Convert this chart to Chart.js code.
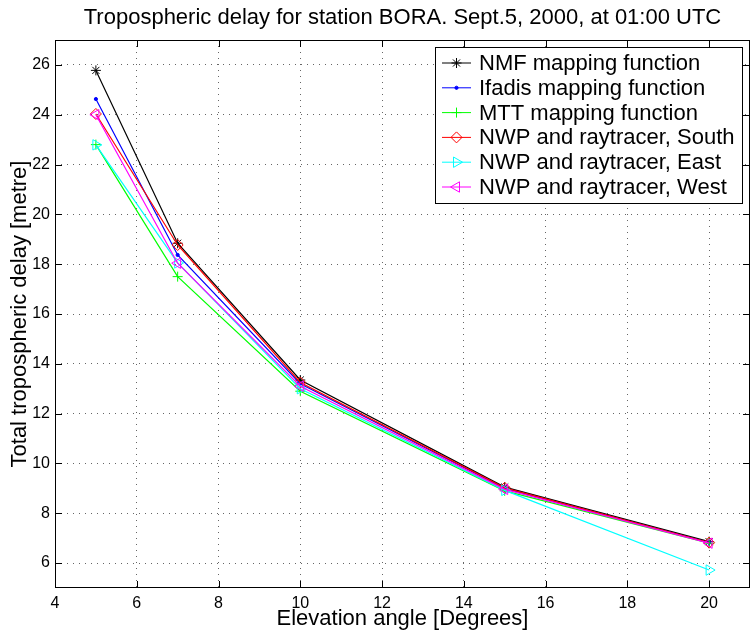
<!DOCTYPE html>
<html>
<head>
<meta charset="utf-8">
<style>
  html, body { margin: 0; padding: 0; background: #fff; overflow: hidden; }
  #wrap { width: 757px; height: 631px; }
</style>
</head>
<body>
<div id="wrap"><canvas id="chart" width="757" height="631"></canvas></div>
<script src="https://cdn.jsdelivr.net/npm/chart.js@4/dist/chart.umd.min.js"></script>
<script>
const elevation = [5, 7, 10, 15, 20];
const nmf = [25.78, 18.84, 13.35, 9.05, 6.86];
const ifadis = [24.63, 18.37, 13.2, 9.0, 6.82];
const mtt = [22.8, 17.5, 12.9, 8.9, 6.8];
const nwpSouth = [24.03, 18.77, 13.25, 9.02, 6.82];
const nwpEast = [22.79, 18.05, 13.0, 8.92, 5.72];
const nwpWest = [24.0, 18.04, 13.1, 8.96, 6.8];

const xTicks = [4, 6, 8, 10, 12, 14, 16, 18, 20];
const yTicks = [6, 8, 10, 12, 14, 16, 18, 20, 22, 24, 26];

const TITLE = 'Tropospheric delay for station BORA. Sept.5, 2000, at 01:00 UTC';
const FONT = "'Liberation Sans', Arial, Helvetica, sans-serif";

const series = [
  { label: 'NMF mapping function', data: nmf, color: '#000000', style: 'star', radius: 5, rotation: 0 },
  { label: 'Ifadis mapping function', data: ifadis, color: '#0000ff', style: 'circle', radius: 1.6, rotation: 0, filled: true },
  { label: 'MTT mapping function', data: mtt, color: '#00ff00', style: 'cross', radius: 5, rotation: 0 },
  { label: 'NWP and raytracer, South', data: nwpSouth, color: '#ff0000', style: 'rectRot', radius: 5.5, rotation: 0 },
  { label: 'NWP and raytracer, East', data: nwpEast, color: '#00ffff', style: 'triangle', radius: 6, rotation: 90 },
  { label: 'NWP and raytracer, West', data: nwpWest, color: '#ff00ff', style: 'triangle', radius: 6, rotation: -90 },
];

// box round the axes with inward ticks, plus the title
const matlabFrame = {
  id: 'matlabFrame',
  afterDatasetsDraw(chart) {
    const { ctx, chartArea: a, scales } = chart;
    ctx.save();
    ctx.strokeStyle = '#000';
    ctx.lineWidth = 1;
    ctx.strokeRect(a.left + 0.5, a.top + 0.5, a.right - a.left - 1, a.bottom - a.top - 1);
    ctx.beginPath();
    xTicks.forEach(v => {
      const x = Math.round(scales.x.getPixelForValue(v)) + 0.5;
      ctx.moveTo(x, a.bottom); ctx.lineTo(x, a.bottom - 7);
      ctx.moveTo(x, a.top); ctx.lineTo(x, a.top + 7);
    });
    yTicks.forEach(v => {
      const y = Math.round(scales.y.getPixelForValue(v)) + 0.5;
      ctx.moveTo(a.left, y); ctx.lineTo(a.left + 7, y);
      ctx.moveTo(a.right, y); ctx.lineTo(a.right - 7, y);
    });
    ctx.stroke();

    ctx.fillStyle = '#000';
    ctx.font = `22px ${FONT}`;
    ctx.textAlign = 'center';
    ctx.textBaseline = 'middle';
    ctx.fillText(TITLE, (a.left + a.right) / 2, 18);
    ctx.restore();
  },
};

const boxLegend = {
  id: 'boxLegend',
  afterDraw(chart) {
    const { ctx, chartArea: a } = chart;
    const right = a.right - 8;
    const top = a.top + 7;
    const w = 307, rowH = 24.8, h = 156;
    const left = right - w;
    ctx.save();
    ctx.fillStyle = '#fff';
    ctx.fillRect(left, top, w, h);
    ctx.strokeStyle = '#000';
    ctx.lineWidth = 1;
    ctx.strokeRect(left + 0.5, top + 0.5, w, h);
    ctx.font = `22px ${FONT}`;
    ctx.textAlign = 'left';
    ctx.textBaseline = 'middle';
    series.forEach((s, i) => {
      const y = top + 16 + i * rowH;
      ctx.strokeStyle = s.color;
      ctx.lineWidth = 1;
      ctx.beginPath();
      ctx.moveTo(left + 7, y);
      ctx.lineTo(left + 36, y);
      ctx.stroke();
      ctx.fillStyle = s.filled ? s.color : 'rgba(0,0,0,0)';
      Chart.helpers.drawPoint(ctx, {
        pointStyle: s.style, radius: s.radius, rotation: s.rotation, borderWidth: 1,
      }, left + 21.5, y);
      ctx.fillStyle = '#000';
      ctx.fillText(s.label, left + 44, y + 1);
    });
    ctx.restore();
  },
};

const gridOpts = { color: 'rgba(0,0,0,0.6)', lineWidth: 1, drawTicks: false };

new Chart(document.getElementById('chart'), {
  type: 'line',
  plugins: [matlabFrame, boxLegend],
  data: {
    datasets: series.map((s, i) => ({
      label: s.label,
      data: elevation.map((x, j) => ({ x, y: s.data[j] })),
      borderColor: s.color,
      backgroundColor: s.color,
      borderWidth: 1.2,
      tension: 0,
      pointStyle: s.style,
      pointRadius: s.radius,
      pointRotation: s.rotation,
      pointBorderColor: s.color,
      pointBackgroundColor: s.filled ? s.color : 'rgba(0,0,0,0)',
      pointBorderWidth: 1,
      order: series.length - i,
      clip: false,
    })),
  },
  options: {
    responsive: false,
    animation: false,
    layout: { padding: { top: 40, right: 1, left: 0, bottom: 0 } },
    plugins: { legend: { display: false }, tooltip: { enabled: false } },
    scales: {
      x: {
        type: 'linear', min: 4, max: 21,
        afterBuildTicks: s => { s.ticks = xTicks.map(v => ({ value: v })); },
        afterFit: s => { s.height = 43; },
        grid: gridOpts,
        border: { display: false, dash: [1, 5] },
        ticks: { font: { family: FONT, size: 16 }, color: '#000', padding: 6, maxRotation: 0, autoSkip: false },
        title: {
          display: true, text: 'Elevation angle [Degrees]', color: '#000',
          font: { family: FONT, size: 22, lineHeight: 1 }, padding: { top: 0, bottom: 1 },
        },
      },
      y: {
        type: 'linear', min: 5, max: 27,
        afterBuildTicks: s => { s.ticks = yTicks.map(v => ({ value: v })); },
        afterFit: s => { s.width = 55; },
        grid: gridOpts,
        border: { display: false, dash: [1, 5] },
        ticks: { font: { family: FONT, size: 16 }, color: '#000', padding: 5, autoSkip: false },
        title: {
          display: true, text: 'Total tropospheric delay [metre]', color: '#000',
          font: { family: FONT, size: 22, lineHeight: 1 }, padding: { top: 9, bottom: 0 },
        },
      },
    },
  },
});
</script>
</body>
</html>
